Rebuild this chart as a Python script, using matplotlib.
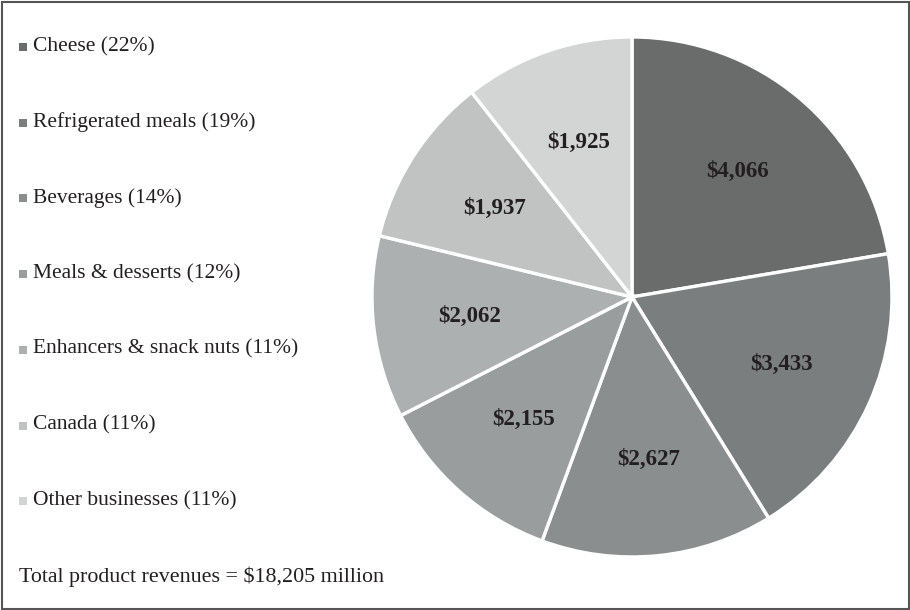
import matplotlib as mpl
mpl.use('Agg')
import matplotlib.pyplot as plt
from matplotlib.patches import Rectangle

plt.rcParams['font.family'] = ['Liberation Serif', 'DejaVu Serif']

# Product revenues by segment, $ millions
categories = ['Cheese', 'Refrigerated meals', 'Beverages', 'Meals & desserts',
              'Enhancers & snack nuts', 'Canada', 'Other businesses']
revenues = [4066, 3433, 2627, 2155, 2062, 1937, 1925]
colors = ['#6a6c6c', '#7b7e7f', '#8b8e8f', '#9a9d9e', '#adb0b1', '#c1c3c3', '#d3d4d4']
total_label = 'Total product revenues = $18,205 million'

TEXT = '#231f20'

fig = plt.figure(figsize=(9.1, 6.1), dpi=100)

# pie on the right
ax = fig.add_axes([0.4088, 0.0869, 0.5714, 0.8525])
wedges, texts = ax.pie(revenues, colors=colors, startangle=90, counterclock=False,
                       labels=['${:,}'.format(v) for v in revenues],
                       labeldistance=0.63,
                       wedgeprops=dict(edgecolor='white', linewidth=2.4))
for t in texts:
    t.set_ha('center')
    t.set_va('center')
    t.set_fontsize(16.5)
    t.set_fontweight('bold')
    t.set_color(TEXT)
ax.set_xlim(-1.0, 1.0)
ax.set_ylim(-1.0, 1.0)
ax.set_aspect('equal')

# legend column on the left, laid out in pixel coordinates
lax = fig.add_axes([0, 0, 1, 1])
lax.set_xlim(0, 910)
lax.set_ylim(610, 0)
lax.axis('off')
total = sum(revenues)
for i, (name, v, c) in enumerate(zip(categories, revenues, colors)):
    y = 46.5 + i * 75.7
    lax.scatter([23], [y + 0.5], marker='s', s=26, color=c, linewidths=0)
    lax.text(33, y, '{} ({:.0f}%)'.format(name, 100.0 * v / total),
             fontsize=15.5, color=TEXT, va='center', ha='left')
lax.text(19, 577, total_label, fontsize=15.8, color=TEXT, va='center', ha='left')

# outer frame
fig.add_artist(Rectangle((1.5 / 910, 1.5 / 610), 1 - 3.0 / 910, 1 - 3.0 / 610,
                         transform=fig.transFigure, fill=False,
                         edgecolor='#555555', linewidth=1.5))

fig.savefig('out.png', dpi=100)
